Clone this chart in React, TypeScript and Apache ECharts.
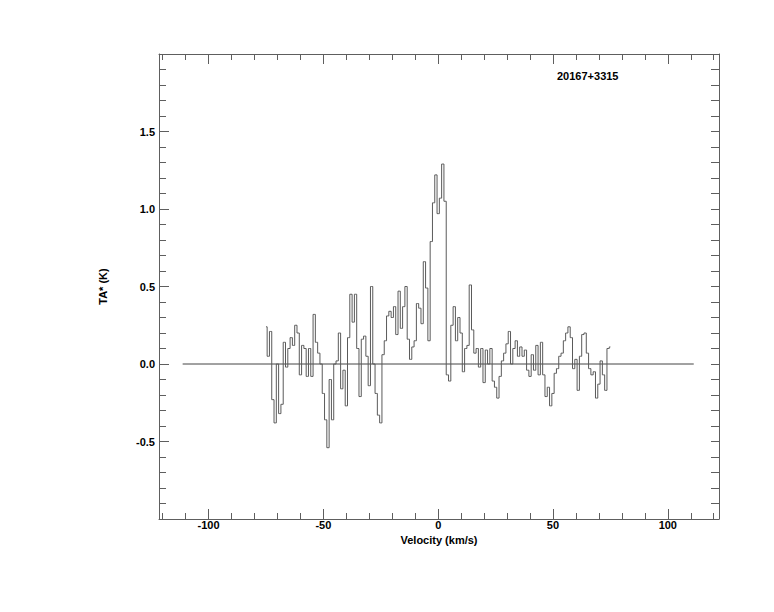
import React, { useEffect, useRef } from "react";
import * as echarts from "echarts";

// Spectrum channels (km/s) and antenna temperature (K)
const velocities = [
  -75, -74, -73, -72, -71, -70, -69, -68, -67, -66, -65, -64, -63, -62, -61, -60,
  -59, -58, -57, -56, -55, -54, -53, -52, -51, -50, -49, -48, -47, -46, -45, -44,
  -43, -42, -41, -40, -39, -38, -37, -36, -35, -34, -33, -32, -31, -30, -29, -28,
  -27, -26, -25, -24, -23, -22, -21, -20, -19, -18, -17, -16, -15, -14, -13, -12,
  -11, -10, -9, -8, -7, -6, -5, -4, -3, -2, -1, 0, 1, 2, 3, 4, 5, 6, 7, 8, 9, 10,
  11, 12, 13, 14, 15, 16, 17, 18, 19, 20, 21, 22, 23, 24, 25, 26, 27, 28, 29, 30,
  31, 32, 33, 34, 35, 36, 37, 38, 39, 40, 41, 42, 43, 44, 45, 46, 47, 48, 49, 50,
  51, 52, 53, 54, 55, 56, 57, 58, 59, 60, 61, 62, 63, 64, 65, 66, 67, 68, 69, 70,
  71, 72, 73, 74, 75,
];
const temps = [
  0.24, 0.05, 0.21, -0.23, -0.38, 0.0, -0.32, -0.26, 0.14, -0.02, 0.1, 0.17, 0.12, 0.25, 0.2, -0.07,
  0.12, 0.1, -0.08, 0.1, -0.08, 0.32, 0.14, 0.07, 0.0, -0.19, -0.36, -0.54, -0.1, -0.36, 0.0, 0.02,
  0.2, -0.16, -0.04, -0.27, 0.17, 0.45, 0.27, 0.45, 0.1, -0.21, 0.16, 0.18, 0.05, -0.14, 0.5, 0.0,
  -0.19, -0.33, -0.38, 0.06, 0.15, 0.31, 0.34, 0.3, 0.37, 0.19, 0.47, 0.23, 0.37, 0.5, 0.16, 0.03,
  0.11, 0.15, 0.39, 0.36, 0.26, 0.66, 0.49, 0.15, 0.79, 1.04, 1.22, 0.97, 1.07, 1.29, 1.05, -0.07, -0.11, 0.25, 0.37, 0.15, 0.3, 0.2,
  -0.05, 0.1, 0.12, 0.51, 0.22, 0.07, 0.1, -0.02, 0.1, -0.12, 0.09, 0.0, 0.1, -0.11, -0.15, -0.22, -0.08, 0.02, 0.07, 0.13,
  0.21, 0.0, 0.1, 0.15, 0.05, 0.11, 0.05, 0.09, -0.04, -0.08, 0.06, -0.04, 0.12, -0.07, 0.14, -0.07, -0.21, -0.15, -0.27, -0.19,
  -0.06, -0.03, 0.05, 0.07, 0.15, 0.2, 0.24, 0.17, -0.03, 0.03, -0.17, 0.05, 0.19, 0.2, 0.07, -0.03, -0.07, -0.05, -0.22, -0.13,
  0.02, -0.07, -0.17, 0.1, 0.11,
];

// Zero baseline
const baselineX = [-111.3, 111.3];
const baselineY = [0, 0];

// Axes
const xRange = [-121.6, 122.3];
const yRange = [-1, 2];
const xMajorTicks = [-100, -50, 0, 50, 100];
const xMinorTicks = [-120, -110, -90, -80, -70, -60, -40, -30, -20, -10, 10, 20, 30, 40, 60, 70, 80, 90, 110, 120];

const titleText = "20167+3315";
const xTitle = "Velocity (km/s)";
const yTitle = "TA* (K)";

const FONT = "'Liberation Sans', Arial, Helvetica, sans-serif";
const AXIS_COLOR = "#5e5e5e";
const LINE_COLOR = "#5a5a5a";

export default function App() {
  const ref = useRef<HTMLDivElement>(null);

  useEffect(() => {
    if (!ref.current) return;
    const chart = echarts.init(ref.current, undefined, { renderer: "svg" });

    const spectrum = velocities.map((v, i) => [v, temps[i]]);
    const baseline = baselineX.map((v, i) => [v, baselineY[i]]);

    const lineStyle = { color: AXIS_COLOR, width: 1 };

    const xBase = (pos: "bottom" | "top", major: boolean, extra: any = {}) => ({
      type: "value",
      position: pos,
      min: xRange[0],
      max: xRange[1],
      axisLine: { show: major, onZero: false, lineStyle },
      axisTick: {
        show: true,
        inside: true,
        length: major ? 10 : 6,
        customValues: major ? xMajorTicks : xMinorTicks,
        lineStyle,
      },
      axisLabel: { show: false },
      splitLine: { show: false },
      ...extra,
    });

    const yBase = (pos: "left" | "right", extra: any = {}) => ({
      type: "value",
      position: pos,
      min: yRange[0],
      max: yRange[1],
      interval: 0.5,
      axisLine: { show: true, onZero: false, lineStyle },
      axisTick: { show: true, inside: true, length: 10, lineStyle },
      minorTick: { show: true, splitNumber: 5, length: 7, lineStyle },
      axisLabel: { show: false },
      splitLine: { show: false },
      minorSplitLine: { show: false },
      ...extra,
    });

    const option: any = {
      animation: false,
      backgroundColor: "#ffffff",
      grid: { left: 159, right: 55, top: 54, bottom: 93, containLabel: false },
      title: {
        text: titleText,
        left: 552,
        top: 65,
        textStyle: { fontFamily: FONT, fontSize: 11, fontWeight: "bold", color: "#000" },
      },
      xAxis: [
        xBase("bottom", true, {
          axisLabel: {
            show: true,
            customValues: xMajorTicks,
            margin: 0,
            color: "#000",
            fontFamily: FONT,
            fontSize: 11,
            fontWeight: "bold",
          },
          name: xTitle,
          nameLocation: "middle",
          nameGap: 7,
          nameTextStyle: { color: "#000", fontFamily: FONT, fontSize: 11, fontWeight: "bold" },
        }),
        xBase("bottom", false),
        xBase("top", true),
        xBase("top", false),
      ],
      yAxis: [
        yBase("left", {
          axisLabel: {
            show: true,
            showMinLabel: false,
            showMaxLabel: false,
            margin: 4,
            color: "#000",
            fontFamily: FONT,
            fontSize: 11,
            fontWeight: "bold",
            formatter: (v: number) => v.toFixed(1),
          },
          name: yTitle,
          nameLocation: "middle",
          nameGap: 51,
          nameRotate: 90,
          nameTextStyle: { color: "#000", fontFamily: FONT, fontSize: 11, fontWeight: "bold" },
        }),
        yBase("right", { axisTick: { show: true, inside: true, length: 8, lineStyle }, minorTick: { show: true, splitNumber: 5, length: 8, lineStyle } }),
      ],
      series: [
        {
          type: "line",
          xAxisIndex: 0,
          yAxisIndex: 0,
          data: baseline,
          symbol: "none",
          lineStyle: { color: "#444", width: 1 },
          silent: true,
        },
        {
          type: "line",
          xAxisIndex: 0,
          yAxisIndex: 0,
          data: spectrum,
          step: "middle",
          symbol: "none",
          lineStyle: { color: LINE_COLOR, width: 1 },
          silent: true,
        },
      ],
    };

    chart.setOption(option);
    return () => chart.dispose();
  }, []);

  return (
    <div
      ref={ref}
      style={{ position: "absolute", left: 0, top: 0, width: 774, height: 612, background: "#fff" }}
    />
  );
}
